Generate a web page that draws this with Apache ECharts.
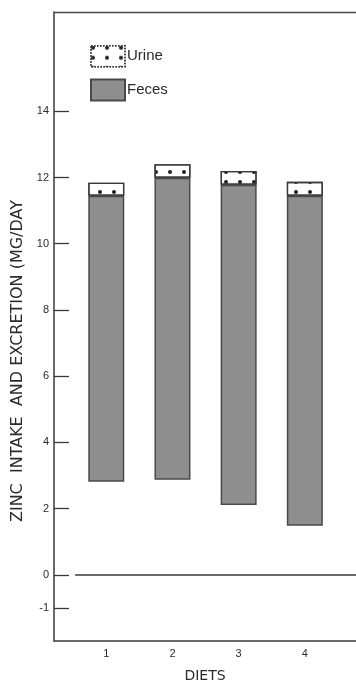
<!DOCTYPE html>
<html>
<head>
<meta charset="utf-8">
<script src="https://cdn.jsdelivr.net/npm/echarts@6/dist/echarts.min.js"></script>
<style>
html,body{margin:0;padding:0;background:#fff;}
#c{width:356px;height:684px;}
</style>
</head>
<body>
<div id="c"></div>
<script>
// Data (mg/day)
var diets = [1, 2, 3, 4];
var barBottoms = [2.81, 2.87, 2.11, 1.48];   // start of each floating bar
var feces = [8.64, 9.12, 9.67, 9.97];        // feces segment height
var urine = [0.39, 0.41, 0.42, 0.42];        // urine segment height
var yTicks = [-1, 0, 2, 4, 6, 8, 10, 12, 14];

// [value, diet] so the value dimension is the stacked one
function pairs(vals) {
  return diets.map(function (d, i) { return [vals[i], d]; });
}

var chart = echarts.init(document.getElementById('c'), null, {renderer: 'canvas'});
var font = '"Liberation Sans", Arial, sans-serif';
var wide = '"DejaVu Sans", sans-serif';
var ink = '#2b2b2b';
var axisCol = '#3a3a3a';

chart.setOption({
  animation: false,
  backgroundColor: '#ffffff',
  grid: {
    left: 54, top: 12, right: -15, bottom: 43,
    outerBoundsMode: 'none',
    containLabel: false,
    show: false
  },
  legend: {
    orient: 'vertical',
    left: 90, top: 45,
    padding: 0,
    icon: 'rect',
    itemWidth: 34, itemHeight: 21, itemGap: 11,
    data: [
      {name: 'Urine', itemStyle: {borderType: 'dotted', borderWidth: 1.5}},
      {name: 'Feces'}
    ],
    textStyle: {fontFamily: font, fontSize: 15, color: ink, padding: [0, 0, 0, -3]},
    selectedMode: false
  },
  xAxis: [
    {
      type: 'value',
      min: 0.21, max: 5.0,
      splitLine: {show: false},
      axisTick: {show: false},
      axisLine: {show: true, onZero: false, lineStyle: {color: axisCol, width: 1.5}},
      axisLabel: {
        customValues: diets,
        margin: 7,
        fontFamily: font, fontSize: 11, color: ink
      }
    },
    {
      type: 'value',
      position: 'top',
      min: 0.21, max: 5.0,
      splitLine: {show: false},
      axisTick: {show: false},
      axisLabel: {show: false},
      axisLine: {show: true, onZero: false, lineStyle: {color: '#4a4a4a', width: 1.3}}
    }
  ],
  yAxis: {
    type: 'value',
    min: -2, max: 17,
    splitLine: {show: false},
    axisLine: {show: true, lineStyle: {color: axisCol, width: 1.5}},
    axisTick: {
      show: true, inside: true, length: 15,
      customValues: yTicks,
      lineStyle: {color: axisCol, width: 1.3}
    },
    axisLabel: {
      customValues: yTicks,
      margin: 5,
      fontFamily: font, fontSize: 11, color: ink
    }
  },
  graphic: [
    {
      type: 'text',
      x: 18, y: 361,
      rotation: Math.PI / 2,
      style: {
        text: 'ZINC  INTAKE  AND EXCRETION (MG/DAY',
        fill: ink,
        font: '16px ' + wide,
        textAlign: 'center',
        textVerticalAlign: 'middle'
      }
    },
    {
      type: 'text',
      x: 205, y: 676,
      style: {
        text: 'DIETS',
        fill: ink,
        font: '14px ' + wide,
        textAlign: 'center',
        textVerticalAlign: 'middle'
      }
    }
  ],
  series: [
    {
      name: 'base',
      type: 'bar',
      stack: 'total',
      barWidth: 36,
      silent: true,
      encode: {x: 1, y: 0},
      itemStyle: {color: 'transparent'},
      data: pairs(barBottoms),
      markLine: {
        silent: true,
        symbol: 'none',
        label: {show: false},
        lineStyle: {color: axisCol, width: 1.5, type: 'solid'},
        data: [[{xAxis: 0.53, yAxis: 0}, {xAxis: 5.0, yAxis: 0}]]
      }
    },
    {
      name: 'Feces',
      type: 'bar',
      stack: 'total',
      barWidth: 36,
      encode: {x: 1, y: 0},
      itemStyle: {color: '#8e8e8e', borderColor: '#4a4a4a', borderWidth: 1.5},
      data: pairs(feces)
    },
    {
      name: 'Urine',
      type: 'bar',
      stack: 'total',
      barWidth: 36,
      encode: {x: 1, y: 0},
      itemStyle: {
        color: '#ffffff', borderColor: '#3a3a3a', borderWidth: 1.3,
        decal: {
          symbol: 'circle',
          symbolSize: 1,
          color: '#222222',
          dashArrayX: [4, 10],
          dashArrayY: [4, 6],
          rotation: 0
        }
      },
      data: pairs(urine)
    }
  ]
});
</script>
</body>
</html>
